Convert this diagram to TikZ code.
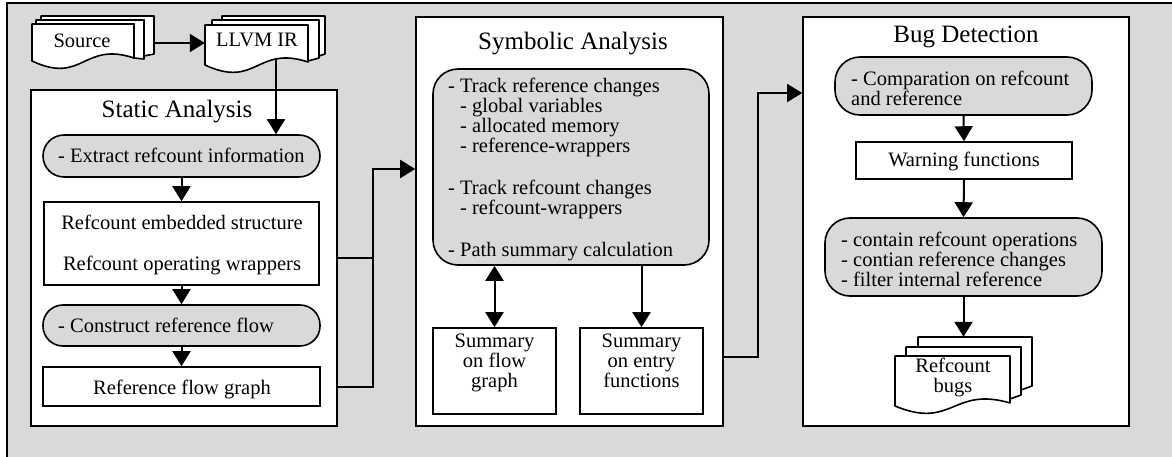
\documentclass[tikz,border=0pt]{standalone}
\usepackage{fontspec}
\setmainfont{Liberation Serif}
\usetikzlibrary{arrows.meta,fit}
\definecolor{panelgray}{RGB}{217,217,217}
\newcommand{\fstrut}{\rule{0pt}{14pt}}
\tikzset{
  frame/.style={draw=black, line width=1.6pt},
  panel/.style={frame, fill=white, inner sep=0pt},
  pill/.style={frame, fill=panelgray, inner sep=0pt},
  sheet/.style={frame, fill=white, line join=round},
  txt/.style={inner sep=0pt, font=\fontsize{20.5}{20}\selectfont},
  ttl/.style={inner sep=0pt, font=\fontsize{25}{28}\selectfont},
  conn/.style={line width=2pt},
  arr/.style={conn, -{Triangle[length=15pt,width=18pt]}},
  darr/.style={conn, {Triangle[length=15pt,width=18pt]}-{Triangle[length=15pt,width=18pt]}},
}
\begin{document}
\begin{tikzpicture}[x=1pt, y=-1pt]
\useasboundingbox (0,0) rectangle (1172,457);
\clip (0,0) rectangle (1172,457);

% grey canvas with its frame
\fill[panelgray] (7,3) rectangle (1172,457);
\draw[line width=2pt] (7,457) -- (7,3) -- (1172,3);

% ---- input documents ----
\draw[sheet] (41,16) -- (154,16) -- (154,54) -- (144,56) -- (144,20) -- (41,20) -- cycle;
\draw[sheet] (36,20) -- (144,20) -- (144,59) -- (134,58) -- (134,24) -- (36,24) -- cycle;
\draw[sheet] (32,24) -- (134,24) -- (134,58) .. controls (83,41) and (83,85) .. (32,61) -- cycle;
\node[inner sep=0pt, fit={(32,16) (154,68)}] (srcstack) {};
\node[txt, anchor=base] (srcT) at (82,48) {Source};

\draw[sheet] (222,16) -- (325,16) -- (325,54) -- (319,56) -- (319,20) -- (222,20) -- cycle;
\draw[sheet] (212,20) -- (319,20) -- (319,58) -- (308,61) -- (308,25) -- (212,25) -- cycle;
\draw[sheet] (205,25) -- (308,25) -- (308,62) .. controls (256.5,45) and (256.5,89) .. (205,65) -- cycle;
\node[inner sep=0pt, fit={(205,16) (325,72)}] (llvmstack) {};
\node[txt, anchor=base] (llvmT) at (257,47) {LLVM IR};

% ---- static analysis ----
\node[panel, fit={(31,90) (337,426)}] (static) {};
\node[ttl, anchor=base] (staticT) at (177,118) {Static Analysis};
\node[pill, rounded corners=21pt, fit={(43,135) (320,177)}] (extract) {};
\node[txt, anchor=base west] (extractT) at (58,163) {- Extract refcount information};
\node[panel, fit={(44,202) (319,285)}] (wrap) {};
\node[txt, anchor=north, align=center] (wrapT) at (182,215)
  {\fstrut Refcount embedded structure\\[21pt]Refcount operating wrappers};
\node[pill, rounded corners=20pt, fit={(43,305) (320,346)}] (construct) {};
\node[txt, anchor=base west] (constructT) at (58,332) {- Construct reference flow};
\node[panel, fit={(43,367) (320,406)}] (refgraph) {};
\node[txt, anchor=base] (refgraphT) at (182,394) {Reference flow graph};

% ---- symbolic analysis ----
\node[panel, fit={(416,17) (723,426)}] (symb) {};
\node[ttl, anchor=base] (symbT) at (573,50) {Symbolic Analysis};
\node[pill, rounded corners=25pt, fit={(433,69) (709,265)}] (track) {};
\node[txt, anchor=north west, align=left] (trackT) at (448,78)
  {\fstrut- Track reference changes\\
   \hspace*{12pt}- global variables\\
   \hspace*{12pt}- allocated memory\\
   \hspace*{12pt}- reference-wrappers\\[22pt]
   - Track refcount changes\\
   \hspace*{12pt}- refcount-wrappers\\[21.5pt]
   - Path summary calculation};
\node[panel, fit={(433,328) (556,414)}] (sumflow) {};
\node[txt, anchor=north, align=center] (sumflowT) at (494.5,333)
  {\fstrut Summary\\on flow\\graph};
\node[panel, fit={(580,328) (703,414)}] (sument) {};
\node[txt, anchor=north, align=center] (sumentT) at (641.5,333)
  {\fstrut Summary\\on entry\\functions};

% ---- bug detection ----
\node[panel, fit={(803,17) (1129,426)}] (bug) {};
\node[ttl, anchor=base] (bugT) at (966,43) {Bug Detection};
\node[pill, rounded corners=25pt, fit={(835,57) (1092,115)}] (cmp) {};
\node[txt, anchor=north west, align=left] (cmpT) at (851,71)
  {\fstrut- Comparation on refcount\\and reference};
\node[panel, fit={(856,142) (1072,179)}] (warn) {};
\node[txt, anchor=base] (warnT) at (964,167) {Warning functions};
\node[pill, rounded corners=25pt, fit={(825,218) (1102,296)}] (filter) {};
\node[txt, anchor=north west, align=left] (filterT) at (841,232)
  {\fstrut- contain refcount operations\\- contian reference changes\\- filter internal reference};

\draw[sheet] (918,337) -- (1032,337) -- (1032,386) -- (1021,390) -- (1021,347) -- (918,347) -- cycle;
\draw[sheet] (906,347) -- (1021,347) -- (1021,395) -- (1010,399) -- (1010,356) -- (906,356) -- cycle;
\draw[sheet] (895,356) -- (1010,356) -- (1010,403) .. controls (952.5,386) and (952.5,430) .. (895,406) -- cycle;
\node[inner sep=0pt, fit={(895,337) (1032,413)}] (bugstack) {};
\node[txt, anchor=north, align=center] (bugsT) at (953,358) {\fstrut Refcount\\bugs};

% ---- connectors ----
\coordinate (feed) at (154,43);
\draw[arr] (feed) -- (feed -| llvmstack.west);
\coordinate (irout) at (276,59);
\draw[arr] (irout) -- (irout |- extract.north);

\draw[arr] (extract.south) -- (wrap.north);
\draw[arr] (wrap.south) -- (construct.north);
\draw[arr] (construct.south) -- (refgraph.north);

\coordinate (merge) at (373,169);
\coordinate (staticout) at (337,258);
\draw[conn] (staticout) -- (staticout -| merge);
\draw[arr] (static.east |- refgraph.center) -| (merge) -- (merge -| symb.west);

\draw[darr] (sumflow.north) -- (sumflow.north |- track.south);
\draw[arr] (sument.north |- track.south) -- (sument.north);

\coordinate (symout) at (723,357);
\coordinate (rise) at (758,93);
\draw[arr] (symout) -| (rise) -- (rise -| bug.west);

\draw[arr] (cmp.south) -- (warn.north);
\draw[arr] (warn.south) -- (filter.north);
\draw[arr] (filter.south) -- (filter.south |- bugstack.north);
\end{tikzpicture}
\end{document}
